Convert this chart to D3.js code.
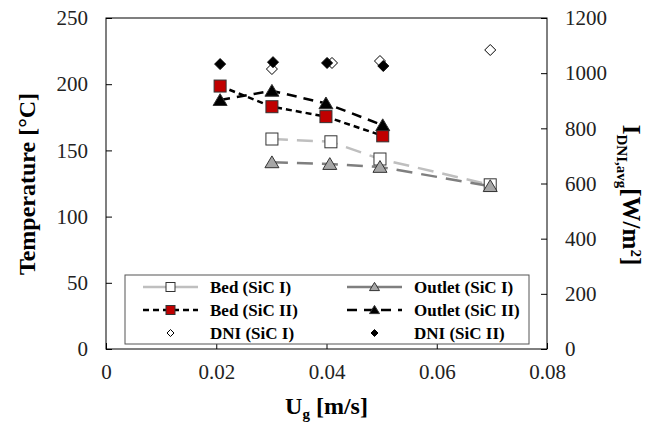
<!DOCTYPE html>
<html>
<head>
<meta charset="utf-8">
<script src="https://cdn.jsdelivr.net/npm/d3@7"></script>
<style>
  body { margin: 0; background: #fff; }
  svg text { font-family: "Liberation Serif", "Times New Roman", serif !important; }
</style>
</head>
<body>
<div id="chart"></div>
<script>
// values
const bedSiC1    = [[0.0301, 158.6], [0.0408, 156.5], [0.0497, 143.5], [0.0697, 124]];
const outletSiC1 = [[0.0301, 141], [0.0406, 139.7], [0.0497, 137.5], [0.0697, 123]];
const bedSiC2    = [[0.0207, 198.6], [0.0301, 183], [0.0399, 175.5], [0.0502, 161]];
const outletSiC2 = [[0.0207, 188], [0.0301, 195], [0.0399, 185.5], [0.0502, 169]];
const dniSiC1    = [[0.0301, 1015], [0.0410, 1037], [0.0497, 1044], [0.0697, 1084]];
const dniSiC2    = [[0.0207, 1033], [0.0303, 1040], [0.0401, 1037], [0.0503, 1026]];

const xTicks = [0, 0.02, 0.04, 0.06, 0.08];
const yTicks = [0, 50, 100, 150, 200, 250];
const y2Ticks = [0, 200, 400, 600, 800, 1000, 1200];

const width = 645, height = 423;
const m = {left: 106, right: 98, top: 18, bottom: 74};
const iw = width - m.left - m.right, ih = height - m.top - m.bottom;

const x = d3.scaleLinear().domain([0, 0.08]).range([0, iw]);
const y = d3.scaleLinear().domain([0, 250]).range([ih, 0]);
const y2 = d3.scaleLinear().domain([0, 1200]).range([ih, 0]);

const svg = d3.select('#chart').append('svg')
              .attr('width', width)
              .attr('height', height);

const g = svg.append('g')
             .attr('transform', `translate(${m.left},${m.top})`);

g.append('rect')
 .attr('width', iw).attr('height', ih)
 .attr('fill', 'none').attr('stroke', '#000').attr('stroke-width', 1);

const xAxis = g.append('g')
               .attr('transform', `translate(0,${ih})`)
               .call(d3.axisBottom(x).tickValues(xTicks).tickSizeInner(-6).tickSizeOuter(0)
                       .tickPadding(15).tickFormat(d => d === 0 ? '0' : d3.format('.2f')(d)));
const yAxis = g.append('g')
               .call(d3.axisLeft(y).tickValues(yTicks).tickSizeInner(-6).tickSizeOuter(0).tickPadding(18));
const y2Axis = g.append('g')
                .attr('transform', `translate(${iw},0)`)
                .call(d3.axisRight(y2).tickValues(y2Ticks).tickSizeInner(-6).tickSizeOuter(0)
                        .tickPadding(18).tickFormat(d3.format('d')));

[xAxis, yAxis, y2Axis].forEach(a => {
    a.attr('font-family', null);
    a.select('.domain').remove();
    a.selectAll('text').attr('font-size', 21).attr('fill', '#222');
    a.selectAll('line').attr('stroke', '#000');
});
xAxis.selectAll('text').attr('dy', '0.71em');

const line = d3.line().x(d => x(d[0])).y(d => y(d[1]));

const series = [
    {data: bedSiC1, color: '#bfbfbf', dash: '16,9', marker: 'square', fill: '#fff'},
    {data: outletSiC1, color: '#7f7f7f', dash: '16,9', marker: 'triangle', fill: '#a6a6a6'},
    {data: bedSiC2, color: '#000', dash: '6,4', marker: 'square', fill: '#c00000'},
    {data: outletSiC2, color: '#000', dash: '10,7', marker: 'triangle', fill: '#000'}
];

series.forEach(s => {
    g.append('path')
     .datum(s.data)
     .attr('d', line)
     .attr('fill', 'none')
     .attr('stroke', s.color)
     .attr('stroke-width', 2.5)
     .attr('stroke-dasharray', s.dash);
});

function marker(sel, type, fill, size) {
    if (type === 'square') {
        sel.append('rect')
           .attr('x', -size / 2).attr('y', -size / 2)
           .attr('width', size).attr('height', size)
           .attr('fill', fill).attr('stroke', '#333').attr('stroke-width', 1);
    } else if (type === 'triangle') {
        const h = size * 0.9;
        sel.append('path')
           .attr('d', `M0,${-h / 2 - 1}L${size / 2 + 1},${h / 2}L${-size / 2 - 1},${h / 2}Z`)
           .attr('fill', fill).attr('stroke', '#333').attr('stroke-width', 1);
    } else {
        const r = size / 2;
        sel.append('path')
           .attr('d', `M0,${-r}L${r},0L0,${r}L${-r},0Z`)
           .attr('fill', fill).attr('stroke', '#000').attr('stroke-width', 1);
    }
}

series.forEach(s => {
    g.selectAll(null)
     .data(s.data)
     .enter().append('g')
     .attr('transform', d => `translate(${x(d[0])},${y(d[1])})`)
     .each(function () { marker(d3.select(this), s.marker, s.fill, 12); });
});

[[dniSiC1, '#fff'], [dniSiC2, '#000']].forEach(([data, fill]) => {
    g.selectAll(null)
     .data(data)
     .enter().append('g')
     .attr('transform', d => `translate(${x(d[0])},${y2(d[1])})`)
     .each(function () { marker(d3.select(this), 'diamond', fill, 11); });
});

// legend
const legend = svg.append('g');
legend.append('rect')
      .attr('x', 125).attr('y', 275).attr('width', 404).attr('height', 69)
      .attr('fill', '#fff').attr('stroke', '#555').attr('stroke-width', 1);

const legendItems = [
    {label: 'Bed (SiC I)', col: 0, row: 0, color: '#bfbfbf', dash: null, marker: 'square', fill: '#fff', size: 9},
    {label: 'Outlet (SiC I)', col: 1, row: 0, color: '#7f7f7f', dash: null, marker: 'triangle', fill: '#a6a6a6', size: 8},
    {label: 'Bed (SiC II)', col: 0, row: 1, color: '#000', dash: '6,4', marker: 'square', fill: '#c00000', size: 9},
    {label: 'Outlet (SiC II)', col: 1, row: 1, color: '#000', dash: '10,7', marker: 'triangle', fill: '#000', size: 8},
    {label: 'DNI (SiC I)', col: 0, row: 2, color: null, marker: 'diamond', fill: '#fff', size: 7},
    {label: 'DNI (SiC II)', col: 1, row: 2, color: null, marker: 'diamond', fill: '#000', size: 7}
];
const colX = [143, 347], rowY = [287, 310, 333];

legendItems.forEach(it => {
    const lx = colX[it.col], ly = rowY[it.row];
    if (it.color) {
        legend.append('line')
              .attr('x1', lx).attr('x2', lx + 55).attr('y1', ly).attr('y2', ly)
              .attr('stroke', it.color).attr('stroke-width', 2.5)
              .attr('stroke-dasharray', it.dash);
    }
    const mg = legend.append('g').attr('transform', `translate(${lx + 27.5},${ly})`);
    marker(mg, it.marker, it.fill, it.size);
    legend.append('text')
          .attr('x', lx + 67).attr('y', ly).attr('dy', '0.35em')
          .attr('font-size', 17).attr('font-weight', 'bold')
          .text(it.label);
});

// axis titles
svg.append('text')
   .attr('transform', `translate(35,${184}) rotate(-90)`)
   .attr('text-anchor', 'middle')
   .attr('font-size', 24).attr('font-weight', 'bold')
   .text('Temperature [°C]');

const xt = svg.append('text')
              .attr('x', m.left + iw / 2).attr('y', 414)
              .attr('text-anchor', 'middle')
              .attr('font-size', 24).attr('font-weight', 'bold');
xt.append('tspan').text('U');
xt.append('tspan').attr('font-size', 15).attr('dy', 5).text('g');
xt.append('tspan').attr('dy', -5).text(' [m/s]');

const yt = svg.append('text')
              .attr('transform', `translate(623,195) rotate(90)`)
              .attr('text-anchor', 'middle')
              .attr('font-size', 25).attr('font-weight', 'bold');
yt.append('tspan').text('I');
yt.append('tspan').attr('font-size', 15).attr('dy', 6).text('DNI,avg');
yt.append('tspan').attr('dy', -6).text('[W/m');
yt.append('tspan').attr('font-size', 15).attr('dy', -8).text('2');
yt.append('tspan').attr('dy', 8).text(']');
</script>
</body>
</html>
